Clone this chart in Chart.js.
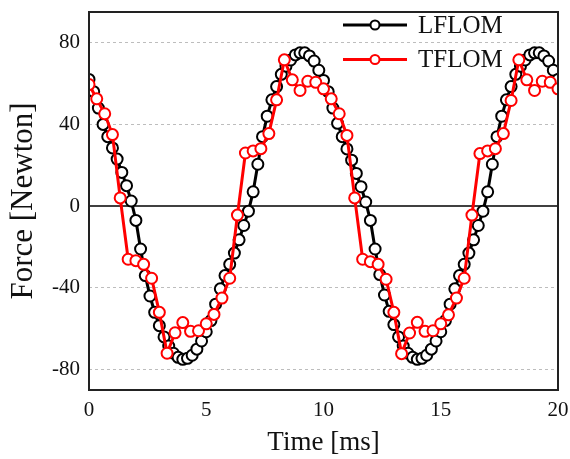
<!DOCTYPE html>
<html>
<head>
<meta charset="utf-8">
<script src="https://cdn.jsdelivr.net/npm/chart.js@4"></script>
<style>
  html, body { margin: 0; padding: 0; background: #fff; }
  #wrap { width: 570px; height: 459px; }
</style>
</head>
<body>
<div id="wrap"><canvas id="force"></canvas></div>
<script>
/* temps (ms) et force (N) */
const timeL = [
  0, 0.2, 0.4, 0.6, 0.8, 1, 1.2, 1.4, 1.6, 1.8,
  2, 2.2, 2.4, 2.6, 2.8, 3, 3.2, 3.4, 3.6, 3.8,
  4, 4.2, 4.4, 4.6, 4.8, 5, 5.2, 5.4, 5.6, 5.8,
  6, 6.2, 6.4, 6.6, 6.8, 7, 7.2, 7.4, 7.6, 7.8,
  8, 8.2, 8.4, 8.6, 8.8, 9, 9.2, 9.4, 9.6, 9.8,
  10, 10.2, 10.4, 10.6, 10.8, 11, 11.2, 11.4, 11.6, 11.8,
  12, 12.2, 12.4, 12.6, 12.8, 13, 13.2, 13.4, 13.6, 13.8,
  14, 14.2, 14.4, 14.6, 14.8, 15, 15.2, 15.4, 15.6, 15.8,
  16, 16.2, 16.4, 16.6, 16.8, 17, 17.2, 17.4, 17.6, 17.8,
  18, 18.2, 18.4, 18.6, 18.8, 19, 19.2, 19.4, 19.6, 19.8, 20,
];
const forceL = [
  62, 56, 48, 40, 34, 28.5, 23, 16.5, 10, 2.5,
  -7, -21, -34, -44, -52, -58.5, -64, -68.5, -72, -74,
  -75, -74.5, -73, -70, -66, -61.5, -56, -48, -40.5, -34,
  -28.5, -23, -16.5, -9.5, -2.5, 7, 20.5, 34, 44, 52,
  58.5, 64.5, 68.5, 71.5, 74, 75, 75, 73.5, 71, 66.5,
  61.5, 56, 48, 40.5, 34, 28, 22.5, 16, 9.5, 2,
  -7, -21, -33.5, -43.5, -51.5, -58, -64, -68.5, -72, -74,
  -75, -74.5, -73, -70, -66, -61.5, -56, -48, -40.5, -34,
  -28.5, -23, -16.5, -9.5, -2.5, 7, 20.5, 34, 44, 52,
  58.5, 64.5, 68.5, 71.5, 74, 75, 75, 73.5, 71, 66.5, 62,
];
const timeT = [
  0, 0.33, 0.67, 1, 1.33, 1.67, 2, 2.33, 2.67, 3,
  3.33, 3.67, 4, 4.33, 4.67, 5, 5.33, 5.67, 6, 6.33,
  6.67, 7, 7.33, 7.67, 8, 8.33, 8.67, 9, 9.33, 9.67,
  10, 10.33, 10.67, 11, 11.33, 11.67, 12, 12.33, 12.67, 13,
  13.33, 13.67, 14, 14.33, 14.67, 15, 15.33, 15.67, 16, 16.33,
  16.67, 17, 17.33, 17.67, 18, 18.33, 18.67, 19, 19.33, 19.67, 20,
];
const forceT = [
  59.5, 52.5, 45.2, 35, 4, -26, -26.7, -28.5, -35.3, -52,
  -72, -62, -57, -61.3, -61, -57.6, -53, -45, -35.3, -4.4,
  26, 27, 28.1, 35.5, 52, 71.6, 61.8, 56.6, 61.1, 60.6,
  57.4, 52.5, 45.2, 34.6, 4, -26, -27.2, -28.5, -35.8, -52,
  -72.2, -62.1, -56.9, -61.3, -61, -57.6, -53.2, -45, -35.3, -4.4,
  25.7, 27, 28.1, 35.5, 51.7, 71.6, 61.8, 56.6, 61.1, 60.6, 57.4,
];
const xTicks = [0, 5, 10, 15, 20];
const yTicks = [-80, -40, 0, 40, 80];
const seriesNames = ["LFLOM", "TFLOM"];
const seriesColors = ["#000000", "#ff0000"];

const serif = "'Liberation Serif', 'Times New Roman', serif";

function points(xs, ys) {
  return xs.map((x, i) => ({ x: x, y: ys[i] }));
}

/* cadre, ligne du zero et legende */
const decor = {
  id: "decor",
  beforeDatasetsDraw(chart) {
    const { ctx, chartArea } = chart;
    const y0 = chart.scales.y.getPixelForValue(0);
    ctx.save();
    ctx.strokeStyle = "#000";
    ctx.lineWidth = 1.5;
    ctx.beginPath();
    ctx.moveTo(chartArea.left, y0);
    ctx.lineTo(chartArea.right, y0);
    ctx.stroke();
    ctx.restore();
  },
  afterDraw(chart) {
    const { ctx, chartArea } = chart;
    ctx.save();
    ctx.strokeStyle = "#222";
    ctx.lineWidth = 2;
    ctx.strokeRect(chartArea.left, chartArea.top, chartArea.right - chartArea.left, chartArea.bottom - chartArea.top);

    const x1 = chartArea.right - 215;
    const x2 = chartArea.right - 151;
    seriesNames.forEach((name, i) => {
      const y = chartArea.top + 13 + i * 34.5;
      ctx.strokeStyle = seriesColors[i];
      ctx.lineWidth = 3;
      ctx.beginPath();
      ctx.moveTo(x1, y);
      ctx.lineTo(x2, y);
      ctx.stroke();
      ctx.beginPath();
      ctx.arc((x1 + x2) / 2, y, 4.5, 0, Math.PI * 2);
      ctx.fillStyle = "#fff";
      ctx.fill();
      ctx.lineWidth = 2;
      ctx.stroke();
      ctx.fillStyle = "#111";
      ctx.font = "25px " + serif;
      ctx.textBaseline = "middle";
      ctx.textAlign = "left";
      ctx.fillText(name, x2 + 11, y + 1);
    });
    ctx.restore();
  },
};

const graph = document.getElementById("force");

new Chart(graph, {
  type: "line",
  data: {
    datasets: [
      {
        label: seriesNames[0],
        data: points(timeL, forceL),
        borderColor: seriesColors[0],
        borderWidth: 3,
        pointRadius: 5.5,
        pointBorderWidth: 2,
        pointBackgroundColor: "#fff",
        pointBorderColor: seriesColors[0],
        tension: 0,
        order: 2,
      },
      {
        label: seriesNames[1],
        data: points(timeT, forceT),
        borderColor: seriesColors[1],
        borderWidth: 3,
        pointRadius: 5.5,
        pointBorderWidth: 2,
        pointBackgroundColor: "#fff",
        pointBorderColor: seriesColors[1],
        tension: 0,
        order: 1,
      },
    ],
  },
  options: {
    responsive: true,
    maintainAspectRatio: false,
    animation: false,
    layout: { padding: { top: 12, right: 12, left: 0, bottom: 0 } },
    plugins: {
      legend: { display: false },
      tooltip: { enabled: false },
    },
    scales: {
      x: {
        type: "linear",
        min: 0,
        max: 20,
        afterBuildTicks: (s) => { s.ticks = xTicks.map((v) => ({ value: v })); },
        afterFit: (s) => {
          s.height = 69;
          s.paddingLeft = 0;
          s.paddingRight = 0;
        },
        grid: { display: false, drawTicks: false },
        border: { display: false },
        ticks: {
          padding: 8,
          color: "#111",
          font: { family: serif, size: 21 },
        },
        title: {
          display: true,
          text: "Time [ms]",
          color: "#111",
          font: { family: serif, size: 27 },
          padding: { top: 0, bottom: 0 },
        },
      },
      y: {
        min: -90,
        max: 95,
        afterBuildTicks: (s) => { s.ticks = yTicks.map((v) => ({ value: v })); },
        afterFit: (s) => {
          s.width = 89;
          s.paddingTop = 0;
          s.paddingBottom = 0;
        },
        grid: {
          drawTicks: false,
          color: (c) => (c.tick && c.tick.value === 0 ? "rgba(0,0,0,0)" : "#bdbdbd"),
          lineWidth: 1,
        },
        border: { display: false, dash: [3, 3] },
        ticks: {
          padding: 9,
          color: "#111",
          font: { family: serif, size: 21 },
        },
        title: {
          display: true,
          text: "Force [Newton]",
          color: "#111",
          font: { family: serif, size: 31 },
          padding: { top: 5, bottom: 0 },
        },
      },
    },
  },
  plugins: [decor],
});
</script>
</body>
</html>
